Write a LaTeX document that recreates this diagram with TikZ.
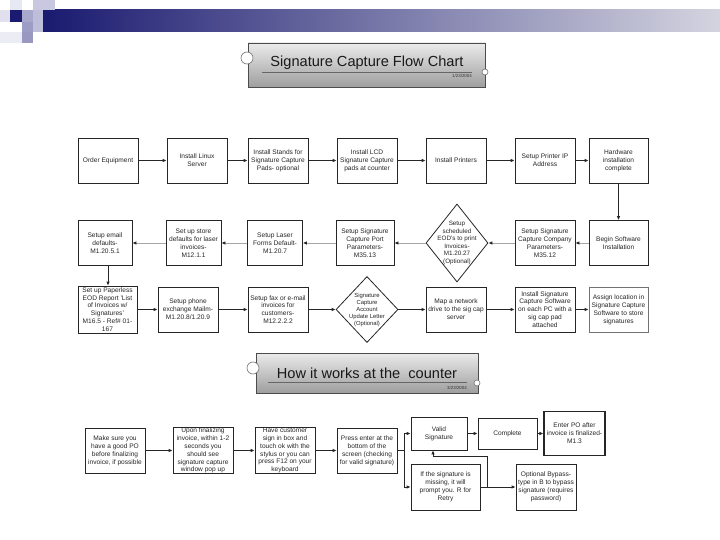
\documentclass[tikz,border=0pt]{standalone}
\usepackage{fontspec}
\setmainfont{Liberation Sans}
\usetikzlibrary{arrows.meta,shapes.geometric}
\definecolor{navy}{RGB}{26,26,112}
\definecolor{barend}{RGB}{212,212,224}
\definecolor{sqA}{RGB}{224,224,238}
\definecolor{sqB}{RGB}{232,232,242}
\definecolor{sqC}{RGB}{168,168,204}
\definecolor{sqD}{RGB}{156,156,196}
\definecolor{sqE}{RGB}{200,200,224}
\definecolor{sqF}{RGB}{190,190,218}
\definecolor{sqG}{RGB}{152,152,192}
\definecolor{sqH}{RGB}{236,236,244}
\begin{document}
\begin{tikzpicture}[x=1pt,y=-1pt,
  box/.style={draw=black!85, line width=0.8pt, fill=white, minimum width=#1, minimum height=45pt,
    inner sep=0pt, align=center, font=\fontsize{6.6}{7.9}\selectfont, text=black!85},
  box/.default=60pt,
  dia/.style={draw=black!85, line width=0.8pt, fill=white, diamond, inner sep=0pt},
  diatext/.style={align=center, font=\fontsize{6.3}{7.6}\selectfont, text=black!85, inner sep=0pt},
  arr/.style={draw=black!85, line width=0.8pt, -{Latex[length=4pt,width=3.6pt]}},
  arrg/.style={draw=black!35, line width=0.8pt, -{Latex[length=4pt,width=3.6pt,color=black!85]}},
  ln/.style={draw=black!85, line width=0.8pt},
  titlebox/.style={draw=black!70, line width=0.7pt, top color=black!8, bottom color=black!38, inner sep=0pt},
  titletext/.style={font=\fontsize{14.6}{16}\selectfont, text=black!90, inner sep=0pt, anchor=base},
  datetext/.style={font=\fontsize{4.4}{5}\selectfont, text=black!80, inner sep=0pt, anchor=base east},
  bigcirc/.style={circle, draw=black!55, fill=white, line width=0.6pt, minimum size=12pt, inner sep=0pt},
  smallcirc/.style={circle, draw=black!55, fill=white, line width=0.6pt, minimum size=6pt, inner sep=0pt}
]
\useasboundingbox (0,0) rectangle (720,540);
\fill[white] (0,0) rectangle (720,540);

% header decoration
\shade[left color=navy, right color=barend] (43,10) rectangle (720,32);
\fill[sqA] (0,10) rectangle (10,22);
\fill[sqB] (10,0) rectangle (22,10);
\fill[navy] (10,10) rectangle (22,22);
\fill[sqC] (22,10) rectangle (33,22);
\fill[sqD] (22,22) rectangle (33,32);
\fill[sqE] (33,0) rectangle (55,10);
\fill[sqF] (33,10) rectangle (43,32);
\fill[sqG] (22,32) rectangle (33,43);
\fill[sqH] (0,32) rectangle (22,43);

% title 1
\node[titlebox, minimum width=237pt, minimum height=44pt] (t1) at (366.5,65) {};
\node[titletext] (t1txt) at (367,67) {Signature Capture Flow Chart};
\draw[black!60, line width=0.5pt] (262,72) -- (472,72);
\node[datetext] (t1date) at (472,77.5) {1/23/2004};
\node[bigcirc] (t1c1) at (247,58) {};
\node[smallcirc] (t1c2) at (485,72) {};

% title 2
\node[titlebox, minimum width=222pt, minimum height=40pt] (t2) at (367,373) {};
\node[titletext] (t2txt) at (367,378) {How it works at the\ \ counter};
\draw[black!60, line width=0.5pt] (268,382) -- (467,382);
\node[datetext] (t2date) at (467,389.5) {3/23/2004};
\node[bigcirc] (t2c1) at (253,368) {};
\node[smallcirc] (t2c2) at (477,383) {};

% row 1
\node[box] (order) at (108,160.5) {Order Equipment};
\node[box] (linux) at (197,160.5) {Install Linux\\Server};
\node[box] (stands) at (278,160.5) {Install Stands for\\Signature Capture\\Pads- optional};
\node[box] (lcd) at (367,160.5) {Install LCD\\Signature Capture\\pads at counter};
\node[box] (printers) at (456,160.5) {Install Printers};
\node[box] (ip) at (545,160.5) {Setup Printer IP\\Address};
\node[box=59pt] (hw) at (618.5,160.5) {Hardware\\installation\\complete};

\draw[arr] (order) -- (linux);
\draw[arr] (linux) -- (stands);
\draw[arr] (stands) -- (lcd);
\draw[arr] (lcd) -- (printers);
\draw[arr] (printers) -- (ip);
\draw[arr] (ip) -- (hw);

% row 2
\node[box=59pt] (begin) at (618.5,243) {Begin Software\\Installation};
\node[box] (company) at (545,243) {Setup Signature\\Capture Company\\Parameters-\\M35.12};
\node[dia, minimum width=62pt, minimum height=78pt] (eod) at (457,243) {};
\node[diatext] (eodtxt) at (457,243) {Setup\\scheduled\\EOD's to print\\Invoices-\\M1.20.27\\(Optional)};
\node[box=58pt] (port) at (365,243) {Setup Signature\\Capture Port\\Parameters-\\M35.13};
\node[box=55pt] (laser) at (275,243) {Setup Laser\\Forms Default-\\M1.20.7};
\node[box=55pt] (store) at (193.5,243) {Set up store\\defaults for laser\\invoices-\\M12.1.1};
\node[box=54pt] (email) at (105,243) {Setup email\\defaults-\\M1.20.5.1};

\draw[arr] (hw) -- (begin);
\draw[arrg] (begin) -- (company);
\draw[arrg] (company) -- (eod.east);
\draw[arrg] (eod.west) -- (port);
\draw[arrg] (port) -- (laser);
\draw[arrg] (laser) -- (store);
\draw[arrg] (store) -- (email);

% row 3
\node[box=59pt, minimum height=47pt] (paperless) at (107.5,309.5) {Set up Paperless\\EOD Report 'List\\of Invoices w/\\Signatures'\\M16.5 - Ref\# 01-\\167};
\node[box] (phone) at (188,309.5) {Setup phone\\exchange Mailm-\\M1.20.8/1.20.9};
\node[box] (fax) at (278,309.5) {Setup fax or e-mail\\invoices for\\customers-\\M12.2.2.2};
\node[dia, minimum width=62pt, minimum height=66pt] (letter) at (367,309.5) {};
\node[diatext, font=\fontsize{5.9}{7.2}\selectfont] (lettertxt) at (367,310) {Signature\\Capture\\Account\\Update Letter\\(Optional)};
\node[box] (map) at (456,309.5) {Map a network\\drive to the sig cap\\server};
\node[box] (install) at (545,309.5) {Install Signature\\Capture Software\\on each PC with a\\sig cap pad\\attached};
\node[box=59pt, draw=black!55] (assign) at (618.5,309.5) {Assign location in\\Signature Capture\\Software to store\\signatures};

\coordinate (edown) at (108,265.5);
\draw[arr] (edown) -- (edown |- paperless.north);
\draw[arr] (paperless) -- (phone);
\draw[arr] (phone) -- (fax);
\draw[arr] (fax.east) -- (letter.west);
\draw[arr] (letter.east) -- (map.west);
\draw[arr] (map) -- (install);
\draw[arr] (install) -- (assign);

% row 4
\node[box] (make) at (115,450.5) {Make sure you\\have a good PO\\before finalizing\\invoice, if possible};
\node[box] (upon) at (203,450.5) {Upon finalizing\\invoice, within 1-2\\seconds you\\should see\\signature capture\\window pop up};
\node[box] (have) at (285,450.5) {Have customer\\sign in box and\\touch ok with the\\stylus or you can\\press F12 on your\\keyboard};
\node[box] (press) at (367,450.5) {Press enter at the\\bottom of the\\screen (checking\\for valid signature)};
\node[box=56pt, minimum height=33pt] (valid) at (439,433.5) {Valid\\Signature};
\node[box=59pt, minimum height=31pt] (complete) at (507.5,433.5) {Complete};
\node[box=61pt, minimum height=44pt, line width=1.1pt] (enterpo) at (574.5,433.5) {Enter PO after\\invoice is finalized-\\M1.3};
\node[box=69pt, minimum height=46pt] (missing) at (445.5,487) {If the signature is\\missing, it will\\prompt you. R for\\Retry};
\node[box=60pt, minimum height=46pt] (bypass) at (546,487) {Optional Bypass-\\type in B to bypass\\signature (requires\\password)};

\draw[arr] (make) -- (upon);
\draw[arr] (upon) -- (have);
\draw[arr] (have) -- (press);

\coordinate (split) at (404,450.5);
\coordinate (splittop) at (404,433.5);
\coordinate (splitbot) at (404,487);
\draw[ln] (press.east) -- (split);
\draw[ln] (splittop) -- (splitbot);
\draw[arr] (splittop) -- (valid.west);
\draw[arr] (splitbot) -- (missing.west);
\draw[arr] (valid) -- (complete);
\draw[arr] (complete) -- (enterpo);
\draw[arr] (missing) -- (bypass);
\coordinate (retry) at (487,487);
\coordinate (retryup) at (487,456);
\coordinate (retryleft) at (433,456);
\draw[arr] (retry) -- (retryup) -- (retryleft) -- (retryleft |- valid.south);
\end{tikzpicture}
\end{document}
